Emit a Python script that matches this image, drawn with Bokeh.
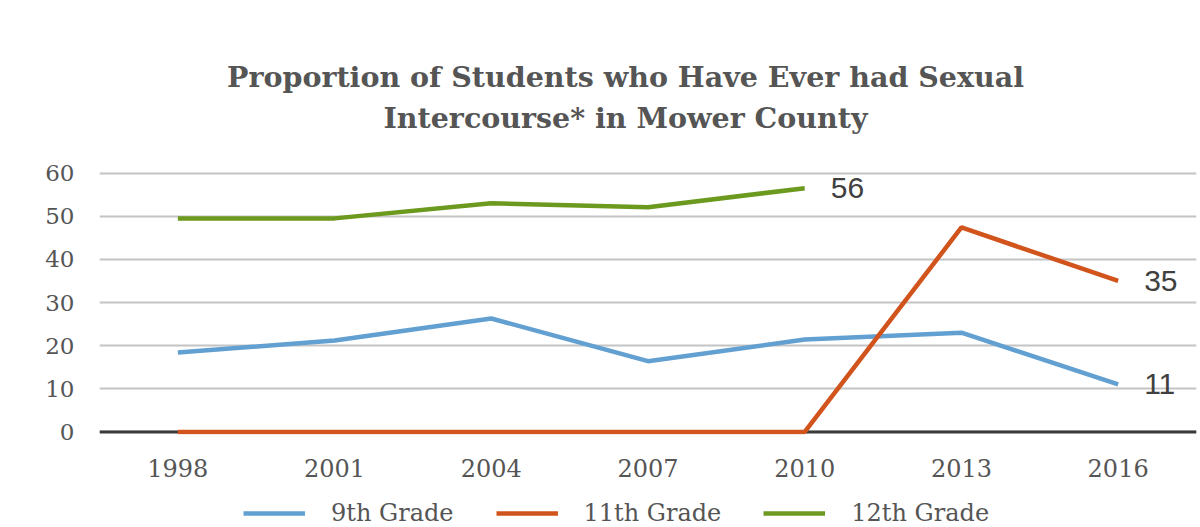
from bokeh.plotting import figure
from bokeh.models import Range1d, Span, Legend, LegendItem, ColumnDataSource
from bokeh.layouts import column
from bokeh.embed import file_html
from bokeh.resources import INLINE
from bokeh.core.properties import value

years = ["1998", "2001", "2004", "2007", "2010", "2013", "2016"]
grade9 = [18.4, 21.2, 26.3, 16.4, 21.4, 23.0, 11.0]
grade11 = [0, 0, 0, 0, 0, 47.4, 35.0]
grade12 = [49.5, 49.5, 53.0, 52.1, 56.5, float("nan"), float("nan")]
end_years = ["2010", "2016", "2016"]
end_values = [56.5, 35.0, 11.0]
end_labels = ["56", "35", "11"]
series_names = ["9th Grade", "11th Grade", "12th Grade"]
title_lines = ["Proportion of Students who Have Ever had Sexual", "Intercourse* in Mower County"]
y_ticks = [0, 10, 20, 30, 40, 50, 60]

BLUE = "#62a0d2"
ORANGE = "#d2541d"
GREEN = "#6c9a1f"
TXT = "#555555"
SERIF = "DejaVu Serif"

# ---- title strip (frame aligned with chart frame: pixel coordinates) ----
TH = 150
tf = figure(width=1200, height=TH, x_range=Range1d(99, 1196), y_range=Range1d(TH, 0),
            output_backend="svg", toolbar_location=None,
            x_axis_location=None, y_axis_location=None,
            min_border_left=0, min_border_right=0, min_border_top=0, min_border_bottom=0)
tf.grid.visible = False
tf.outline_line_color = None
tsrc = ColumnDataSource(dict(x=[625, 625], y=[76, 117], t=title_lines))
tf.text(x="x", y="y", text="t", source=tsrc, text_align="center", text_baseline="middle",
        text_font=value(SERIF), text_font_size="28.5px", text_font_style="bold", text_color=TXT)

# ---- main chart ----
p = figure(width=1200, height=341, x_range=years, y_range=Range1d(-0.6, 60.6),
           output_backend="svg", toolbar_location=None,
           min_border_left=99, min_border_right=4, min_border_top=20, min_border_bottom=57)
p.x_range.range_padding = 0
p.outline_line_color = None
p.title.visible = False

p.xgrid.grid_line_color = None
p.ygrid.grid_line_color = "#c4c4c4"
p.ygrid.grid_line_width = 2
p.yaxis.ticker = y_ticks
p.yaxis.axis_line_color = None
p.yaxis.major_tick_line_color = None
p.yaxis.minor_tick_line_color = None
p.yaxis.major_label_standoff = 19
p.yaxis.major_label_text_font = SERIF
p.yaxis.major_label_text_font_size = "23px"
p.yaxis.major_label_text_color = TXT
p.xaxis.axis_line_color = None
p.xaxis.major_tick_line_color = None
p.xaxis.major_label_standoff = 18
p.xaxis.major_label_text_font = SERIF
p.xaxis.major_label_text_font_size = "24px"
p.xaxis.major_label_text_color = TXT

p.add_layout(Span(location=0, dimension="width", line_color="#3a3a3a", line_width=3, level="underlay"))

series = [grade9, grade11, grade12]
colors = [BLUE, ORANGE, GREEN]
for vals, c in zip(series, colors):
    p.line(years, vals, line_color=c, line_width=4.5)

src = ColumnDataSource(dict(x=end_years, y=end_values, t=end_labels))
p.text(x="x", y="y", text="t", source=src, x_offset=26, text_baseline="middle",
       text_font=value("Liberation Sans"), text_font_size="30px", text_color="#404040")

# ---- legend strip ----
lg = figure(width=1200, height=36, x_range=years, y_range=Range1d(-20, -10),
            output_backend="svg", toolbar_location=None,
            x_axis_location=None, y_axis_location=None,
            min_border_left=0, min_border_right=0, min_border_top=0, min_border_bottom=0)
lg.grid.visible = False
lg.outline_line_color = None
keys = [lg.line(years, vals, line_color=c, line_width=4.5) for vals, c in zip(series, colors)]
legend = Legend(items=[LegendItem(label=n, renderers=[k]) for n, k in zip(series_names, keys)],
                orientation="horizontal", location=(144, 0),
                glyph_width=62, glyph_height=12, label_standoff=26, spacing=42,
                label_text_font=SERIF, label_text_font_size="24px", label_text_color=TXT,
                border_line_color=None, background_fill_alpha=0, padding=4, margin=0)
lg.add_layout(legend, "center")

layout = column(tf, p, lg, spacing=0)
open("out.html", "w").write(file_html(layout, INLINE))
